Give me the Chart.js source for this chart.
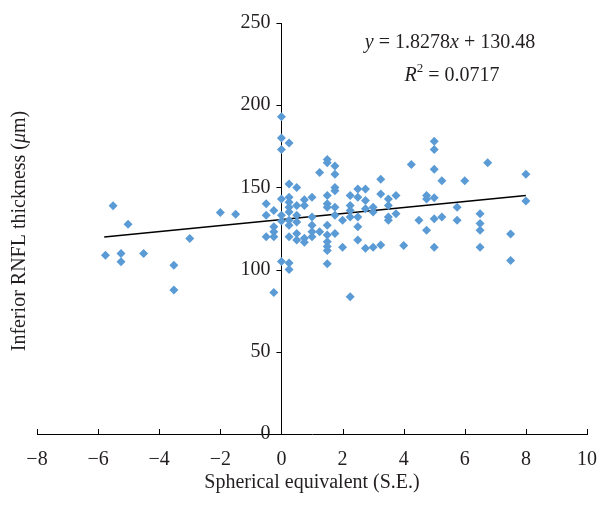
<!DOCTYPE html>
<html lang="en">
<head>
    <meta charset="UTF-8">
    <title>RNFL vs spherical equivalent</title>
    <script src="https://cdn.jsdelivr.net/npm/chart.js"></script>
    <style>
        html, body { margin: 0; padding: 0; background: #fff; }
        #wrap { width: 611px; height: 514px; }
    </style>
</head>
<body>
<div id="wrap"><canvas id="chart" width="611" height="514"></canvas></div>
<script>
// spherical equivalent (x) and inferior RNFL thickness (y)
var seValues = [
    -5.76, -5.51, -5.25, -5.25, -5.02, -4.51, -3.52, -3.52, -3.0, -2.0, -1.5,
    -0.5, -0.5, -0.5,
    -0.25, -0.25, -0.25, -0.25, -0.25,
    0, 0, 0, 0, 0, 0, 0,
    0.25, 0.25, 0.25, 0.25, 0.25, 0.25, 0.25, 0.25, 0.25, 0.25, 0.25,
    0.5, 0.5, 0.5, 0.5, 0.5, 0.5,
    0.75, 0.75, 0.75, 0.75,
    1.0, 1.0, 1.0, 1.0, 1.0,
    1.25, 1.25,
    1.5, 1.5, 1.5, 1.5, 1.5, 1.5, 1.5, 1.5, 1.5, 1.5, 1.5,
    1.75, 1.75, 1.75, 1.75, 1.75, 1.75, 1.75,
    2.0, 2.0,
    2.25, 2.25, 2.25, 2.25, 2.25,
    2.5, 2.5, 2.5, 2.5, 2.5,
    2.75, 2.75, 2.75, 2.75,
    3.0, 3.0, 3.0,
    3.25, 3.25, 3.25,
    3.5, 3.5, 3.5, 3.5,
    3.75, 3.75,
    4.0, 4.25, 4.5,
    4.75, 4.75, 4.75,
    5.0, 5.0, 5.0, 5.0, 5.0, 5.0,
    5.25, 5.25,
    5.75, 5.75,
    6.0,
    6.5, 6.5, 6.5, 6.5,
    6.75,
    7.5, 7.5,
    8.0, 8.0
];
var rnflValues = [
    108.7, 138.8, 109.8, 104.7, 127.6, 109.8, 102.6, 87.6, 118.9, 134.8, 133.7,
    140, 133, 120,
    136, 126, 123, 120, 86,
    193, 180, 173, 143, 133, 129.5, 105,
    177, 152, 144, 141, 138, 135, 130, 127, 120, 104, 100,
    150, 139, 133, 129, 122, 118,
    142.5, 139, 119, 116.7,
    144, 132, 127, 123, 120,
    159, 123,
    167, 165, 145, 140, 138, 127, 121, 117, 114, 111.6, 103.5,
    163, 158, 150, 148, 138, 133, 122,
    130, 113.6,
    145, 139, 136, 132, 83.5,
    149, 144, 132, 126, 118,
    149, 142, 137, 113,
    138, 135, 113.6,
    155, 146, 115,
    143, 139, 132, 130,
    145, 134,
    114.6, 164, 130,
    145, 143, 124,
    178, 173, 161, 143.7, 131, 113.6,
    154, 132,
    138, 130,
    154,
    134, 128, 124, 113.6,
    165,
    121.7, 105.5,
    158, 141.7
];

// linear trendline endpoints as drawn in the figure
var trendX = [-5.8, 8];
var trendY = [119.9, 145.1];

// axis ticks
var xTicks = [-8, -6, -4, -2, 0, 2, 4, 6, 8, 10];
var yTicks = [0, 50, 100, 150, 200, 250];

var points = seValues.map(function (v, i) { return { x: v, y: rnflValues[i] }; });
var trend = trendX.map(function (v, i) { return { x: v, y: trendY[i] }; });

var serif = '"Liberation Serif", "DejaVu Serif", serif';
var textColor = '#231f20';

// titles, equation, y labels and tick marks
var decorations = {
    id: 'decorations',
    afterDraw: function (chart) {
        var ctx = chart.ctx;
        var xs = chart.scales.x, ys = chart.scales.y;
        var axisY = ys.getPixelForValue(0);
        var axisX = xs.getPixelForValue(0);
        ctx.save();
        ctx.strokeStyle = '#000';
        ctx.lineWidth = 1;
        // x ticks point up into the plot
        xTicks.forEach(function (t) {
            var px = Math.round(xs.getPixelForValue(t)) + 0.5;
            ctx.beginPath();
            ctx.moveTo(px, axisY);
            ctx.lineTo(px, axisY - 5);
            ctx.stroke();
        });
        // y ticks point left of the axis
        yTicks.forEach(function (t) {
            var py = Math.round(ys.getPixelForValue(t)) + 0.5;
            ctx.beginPath();
            ctx.moveTo(axisX, py);
            ctx.lineTo(axisX - 5, py);
            ctx.stroke();
        });

        ctx.fillStyle = textColor;
        ctx.textBaseline = 'middle';

        // y tick labels (positioned axis ignores tick padding)
        ctx.font = '20px ' + serif;
        ctx.textAlign = 'right';
        yTicks.forEach(function (t) {
            ctx.fillText(String(t), axisX - 11, ys.getPixelForValue(t));
        });

        // x axis title
        ctx.textAlign = 'center';
        ctx.fillText('Spherical equivalent (S.E.)', 312, 483);

        // y axis title (rotated), mu in italics
        drawParts(ctx, [
            ['Inferior RNFL thickness (', 'normal'],
            ['\u03bc', 'italic'],
            ['m)', 'normal']
        ], 20, 231, -Math.PI / 2, 20);

        // equation
        drawParts(ctx, [
            ['y', 'italic'], [' = 1.8278', 'normal'], ['x', 'italic'], [' + 130.48', 'normal']
        ], 450, 43, 0, 20);
        drawParts(ctx, [
            ['R', 'italic'], ['2', 'sup'], [' = 0.0717', 'normal']
        ], 452, 76, 0, 20);
        ctx.restore();
    }
};

function fontFor(style, size) {
    if (style === 'italic') return 'italic ' + size + 'px ' + serif;
    if (style === 'sup') return Math.round(size * 0.65) + 'px ' + serif;
    return size + 'px ' + serif;
}

function drawParts(ctx, parts, cx, cy, rot, size) {
    var total = 0;
    parts.forEach(function (p) {
        ctx.font = fontFor(p[1], size);
        total += ctx.measureText(p[0]).width;
    });
    ctx.save();
    ctx.translate(cx, cy);
    ctx.rotate(rot);
    ctx.textAlign = 'left';
    ctx.textBaseline = 'middle';
    var x = -total / 2;
    parts.forEach(function (p) {
        ctx.font = fontFor(p[1], size);
        var dy = p[1] === 'sup' ? -size * 0.35 : 0;
        ctx.fillText(p[0], x, dy);
        x += ctx.measureText(p[0]).width;
    });
    ctx.restore();
}

var ctx = document.getElementById('chart').getContext('2d');
new Chart(ctx, {
    type: 'scatter',
    data: {
        datasets: [{
            label: 'RNFL',
            data: points,
            pointStyle: 'rectRot',
            pointRadius: 4.5,
            pointHoverRadius: 4.5,
            pointBorderWidth: 0,
            backgroundColor: '#5b9bd5',
            borderColor: '#5b9bd5'
        }, {
            label: 'Trend',
            type: 'line',
            data: trend,
            borderColor: '#000',
            borderWidth: 1.5,
            pointRadius: 0,
            fill: false
        }]
    },
    plugins: [decorations],
    options: {
        responsive: false,
        animation: false,
        layout: { padding: { left: 37, right: 24, top: 23, bottom: 28 } },
        plugins: { legend: { display: false }, tooltip: { enabled: false } },
        scales: {
            x: {
                type: 'linear',
                position: 'bottom',
                min: -8,
                max: 10,
                afterBuildTicks: function (axis) {
                    axis.ticks = xTicks.map(function (v) { return { value: v }; });
                },
                grid: { display: false, drawTicks: false },
                border: { display: true, color: '#000', width: 1 },
                ticks: {
                    padding: 14,
                    color: textColor,
                    font: { family: serif, size: 20 },
                    maxRotation: 0,
                    callback: function (v) { return String(v).replace('-', '\u2212'); }
                }
            },
            y: {
                type: 'linear',
                position: { x: 0 },
                min: 0,
                max: 250,
                afterBuildTicks: function (axis) {
                    axis.ticks = yTicks.map(function (v) { return { value: v }; });
                },
                grid: { display: false, drawTicks: false },
                border: { display: true, color: '#000', width: 1 },
                ticks: { display: false }
            }
        }
    }
});
</script>
</body>
</html>
